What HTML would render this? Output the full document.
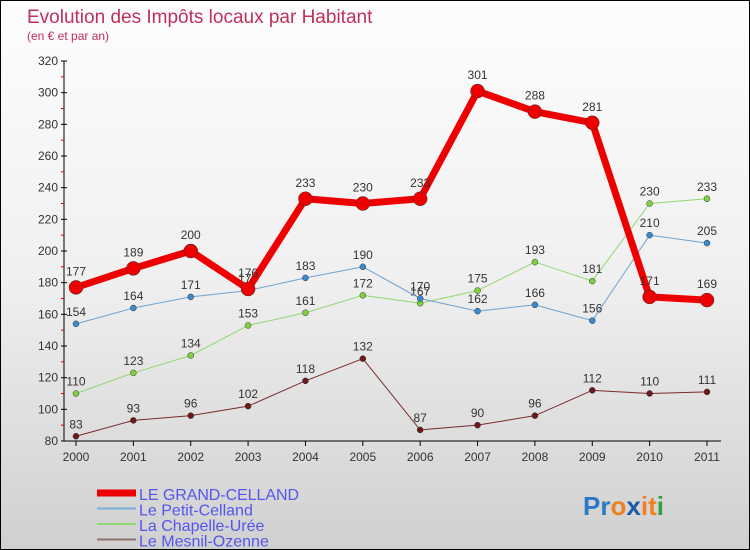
<!DOCTYPE html>
<html><head><meta charset="utf-8"><style>
body{margin:0}
#c{width:750px;height:550px;position:relative;box-sizing:border-box;border:1px solid #000;background:linear-gradient(#fdfdfd,#f0f0f0 50%,#d0d0d0);font-family:"Liberation Sans",sans-serif;overflow:hidden}
svg{position:absolute;left:0;top:0}
</style></head><body>
<div id="c">
<svg width="750" height="550" id="s">
<text x="26" y="22" font-size="19" fill="#c0305a">Evolution des Impôts locaux par Habitant</text>
<text x="26" y="39" font-size="12" fill="#c0305a">(en € et par an)</text>
</svg>
</div>
<script>
const years=[2000,2001,2002,2003,2004,2005,2006,2007,2008,2009,2010,2011];
const grand=[177,189,200,176,233,230,233,301,288,281,171,169];
const petit=[154,164,171,175,183,190,170,162,166,156,210,205];
const chapelle=[110,123,134,153,161,172,167,175,193,181,230,233];
const mesnil=[83,93,96,102,118,132,87,90,96,112,110,111];
const yTicks=[80,100,120,140,160,180,200,220,240,260,280,300,320];
const seriesNames=["LE GRAND-CELLAND","Le Petit-Celland","La Chapelle-Urée","Le Mesnil-Ozenne"];
const s=document.getElementById('s');const NS='http://www.w3.org/2000/svg';
const X=i=>75+i*(706-75)/11;const Y=v=>440-(v-80)*380/240;
function el(t,a,p){const e=document.createElementNS(NS,t);for(const k in a)e.setAttribute(k,a[k]);(p||s).appendChild(e);return e;}
let ax=el('line',{x1:63,y1:60,x2:63,y2:440,stroke:'#000'});


let bx=el('line',{x1:63,y1:440,x2:720,y2:440,stroke:'#000'});


yTicks.forEach((v,i)=>{el('line',{x1:60,y1:Y(v),x2:66,y2:Y(v),stroke:'#000'});
if(i<yTicks.length-1)el('line',{x1:60,y1:Y(v+10),x2:63,y2:Y(v+10),stroke:'#d00'});
const t=el('text',{x:57,y:Y(v)+4,'text-anchor':'end','font-size':12,fill:'#333'});t.textContent=v;

});
years.forEach((y,i)=>{el('line',{x1:X(i),y1:440,x2:X(i),y2:445,stroke:'#000'});
const t=el('text',{x:X(i),y:460,'text-anchor':'middle','font-size':12,fill:'#333'});t.textContent=y;

});
function series(d,col,w,r,dot,name){const g=el('g',{});


el('polyline',{points:d.map((v,i)=>X(i)+','+Y(v)).join(' '),fill:'none',stroke:col,'stroke-width':w,'stroke-linejoin':'round'},g);
d.forEach((v,i)=>{el('circle',{cx:X(i),cy:Y(v),r:r,fill:dot,stroke:'#333','stroke-width':0.5},g);
const t=el('text',{x:X(i),y:Y(v)-(r+5),'text-anchor':'middle','font-size':12,fill:'#333'},g);t.textContent=v;});}
series(mesnil,'#7a2a2a',1,3,'#6a1a1a','series-mesnil-ozenne');
series(chapelle,'#90d870',1,3,'#80d040','series-chapelle-uree');
series(petit,'#6fa3d0',1,3,'#3a8ad0','series-petit-celland');
series(grand,'#ee0000',7,7,'#ee0000','series-grand-celland');
const lc=['#ee0000','#7ab0d8','#90d870','#907070'],lw=[7,2,2,2];
seriesNames.forEach((n,i)=>{const y=492+i*15.5;
const g=el('g',{});


el('line',{x1:96,y1:y,x2:135,y2:y,stroke:lc[i],'stroke-width':lw[i]},g);
const t=el('text',{x:138,y:y+7,'font-size':16,fill:'#5555ee','textLength':i==0?160:0},g);if(i!=0)t.removeAttribute('textLength');t.textContent=n;});
const lg=el('text',{x:582,y:514,'font-size':26,'font-weight':'bold'});


[['Pr','#2a7ac8'],['o','#f08020'],['x','#1a5aa8'],['i','#f08020'],['t','#f08020'],['i','#30a040']].forEach(([c,f])=>{el('tspan',{fill:f},lg).textContent=c;});
</script>
</body></html>
